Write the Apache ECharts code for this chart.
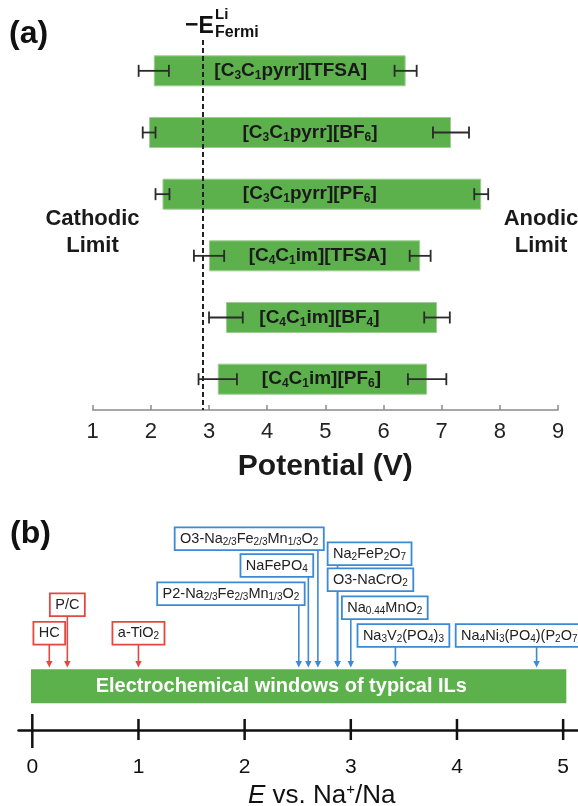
<!DOCTYPE html>
<html><head><meta charset="utf-8">
<script src="https://cdn.jsdelivr.net/npm/echarts@6/dist/echarts.min.js"></script>
<style>html,body{margin:0;padding:0;background:#fff}#c{width:578px;height:806px}</style>
</head><body><div id="c"></div>
<script>
// ---------- Panel (a) data ----------
const ilNames = [
  '[C{s|3}C{s|1}pyrr][TFSA]',
  '[C{s|3}C{s|1}pyrr][BF{s|6}]',
  '[C{s|3}C{s|1}pyrr][PF{s|6}]',
  '[C{s|4}C{s|1}im][TFSA]',
  '[C{s|4}C{s|1}im][BF{s|4}]',
  '[C{s|4}C{s|1}im][PF{s|6}]'
];
const cathodicLimit = [2.05, 1.97, 2.20, 3.00, 3.29, 3.15];
const anodicLimit   = [6.38, 7.16, 7.68, 6.63, 6.92, 6.75];
const cathodicErr   = [0.26, 0.11, 0.12, 0.26, 0.29, 0.33];
const anodicErr     = [0.19, 0.31, 0.12, 0.18, 0.22, 0.33];
const fermiLevel = 2.9;
const potentialMin = 1, potentialMax = 9;

// ---------- Panel (b) data ----------
const ilWindowNa = [0, 5.03];
const electrodeNames = [
  'HC', 'P/C', 'a-TiO{s|2}',
  'O3-Na{s|2/3}Fe{s|2/3}Mn{s|1/3}O{s|2}',
  'NaFePO{s|4}',
  'P2-Na{s|2/3}Fe{s|2/3}Mn{s|1/3}O{s|2}',
  'Na{s|2}FeP{s|2}O{s|7}',
  'O3-NaCrO{s|2}',
  'Na{s|0.44}MnO{s|2}',
  'Na{s|3}V{s|2}(PO{s|4}){s|3}',
  'Na{s|4}Ni{s|3}(PO{s|4})(P{s|2}O{s|7})'
];
const electrodePotential = [0.16, 0.33, 1.00, 2.69, 2.60, 2.51, 2.875, 2.875, 3.00, 3.42, 4.75];
const electrodeKind = ['anode','anode','anode','cathode','cathode','cathode','cathode','cathode','cathode','cathode','cathode'];
const naTicks = [0, 1, 2, 3, 4, 5];

// ---------- layout / style (not data) ----------
const FONT = '"Liberation Sans", Arial, Helvetica, sans-serif';
const GREEN = '#5cb14c';
const RED = '#e4473f', BLUE = '#3b8ad3';
const labelShiftA = [11, 10, -12, 3, -12, -1];
const boxTop    = [622.7, 594.3, 622.7, 528.3, 555, 583.3, 543.3, 569.3, 597.3, 625, 625];
const boxAnchor = ['c','c','c','r','r','r','l','l','l','l','l'];
const boxOff    = [0, 0, 0, 5, 4, 5, 9, 9, 8, 37, 80];

const chart = echarts.init(document.getElementById('c'), null, {renderer: 'canvas'});

const T = (text, x, y, font, extra) => ({type: 'text', style: Object.assign({
  text, x, y, fill: '#111', font: font + ' ' + FONT,
  align: 'left', verticalAlign: 'middle', textAlign: 'left', textVerticalAlign: 'middle'}, extra || {})});

const option = {
  animation: false,
  backgroundColor: '#fff',
  grid: [
    {left: 92.7, right: 20, top: 40, height: 370},
    {left: 18.5, right: 0, top: 500, height: 230}
  ],
  xAxis: [
    {
      gridIndex: 0, type: 'value', min: potentialMin, max: potentialMax, interval: 1,
      axisLine: {show: true, lineStyle: {color: '#8a8a8a', width: 1.5}},
      axisTick: {show: true, inside: true, length: 5, lineStyle: {color: '#8a8a8a', width: 1.5}},
      axisLabel: {fontSize: 22, color: '#222', margin: 11, fontFamily: FONT},
      splitLine: {show: false},
      name: 'Potential (V)', nameLocation: 'middle', nameGap: 42,
      nameTextStyle: {fontSize: 30, fontWeight: 'bold', color: '#1a1a1a', fontFamily: FONT}
    },
    {
      gridIndex: 1, type: 'value', min: -0.13, max: 5.14,
      axisLine: {show: true, lineStyle: {color: '#111', width: 2.5}},
      axisTick: {show: false},
      axisLabel: {customValues: naTicks, fontSize: 21, color: '#111', margin: 27, fontFamily: FONT},
      splitLine: {show: false}
    }
  ],
  yAxis: [
    {gridIndex: 0, type: 'category', data: ilNames.map((n, i) => i), inverse: true, show: false},
    {gridIndex: 1, type: 'value', min: 0, max: 1, show: false}
  ],
  graphic: [
    T('(a)', 9, 34, 'bold 32px'),
    T('(b)', 10, 534, 'bold 32px'),
    T('\u2212', 185, 26, 'bold 23px'),
    T('E', 198.5, 27, 'bold 23px'),
    T('Li', 215, 15, 'bold 15px'),
    T('Fermi', 215, 33, 'bold 16px'),
    T('Cathodic\nLimit', 92.5, 232.5, 'bold 22px', {fill: '#1a1a1a', lineHeight: 27.6, align: 'center', textAlign: 'center'}),
    T('Anodic\nLimit', 541, 232.5, 'bold 22px', {fill: '#1a1a1a', lineHeight: 27.6, align: 'center', textAlign: 'center'}),
    {type: 'text', style: {
      text: '{i|E} vs. Na{p|+}/Na', x: 321.7, y: 796, fill: '#111', fontSize: 26, fontFamily: FONT,
      align: 'center', verticalAlign: 'middle', textAlign: 'center', textVerticalAlign: 'middle',
      rich: {
        i: {fontStyle: 'italic', fontSize: 26, fontFamily: FONT, fill: '#111', lineHeight: 28},
        p: {fontSize: 15, fontFamily: FONT, fill: '#111', lineHeight: 15, padding: [0, 0, 13, 0]}
      }
    }}
  ],
  series: [
    {
      type: 'bar', xAxisIndex: 0, yAxisIndex: 0, stack: 'win', barWidth: 31,
      itemStyle: {color: 'rgba(0,0,0,0)'}, silent: true,
      data: cathodicLimit
    },
    {
      type: 'bar', xAxisIndex: 0, yAxisIndex: 0, stack: 'win', barWidth: 31,
      itemStyle: {color: GREEN, borderColor: '#9fcb93', borderWidth: 1},
      data: anodicLimit.map((v, i) => ({
        value: +(v - cathodicLimit[i]).toFixed(3),
        label: {offset: [labelShiftA[i], 0]}
      })),
      label: {
        show: true, position: 'inside',
        formatter: p => ilNames[p.dataIndex],
        fontSize: 19, fontWeight: 'bold', color: '#1a1a1a', fontFamily: FONT, lineHeight: 22,
        rich: {s: {fontSize: 12, fontWeight: 'bold', color: '#1a1a1a', fontFamily: FONT, lineHeight: 12, padding: [10, 0, 0, 0]}}
      },
      markLine: {
        silent: true, symbol: 'none', animation: false,
        label: {show: false},
        lineStyle: {type: [5, 3], color: '#222', width: 2},
        data: [{xAxis: fermiLevel}]
      }
    },
    {
      type: 'custom', xAxisIndex: 0, yAxisIndex: 0, silent: true, z: 5,
      data: ilNames.map((n, i) => [cathodicLimit[i], anodicLimit[i], cathodicErr[i], anodicErr[i], i]),
      encode: {x: [0, 1], y: 4},
      renderItem: (params, api) => {
        const idx = api.value(4);
        const children = [];
        const mk = (c, e) => {
          const a = api.coord([c - e, idx]);
          const b = api.coord([c + e, idx]);
          const y = a[1];
          const st = {stroke: '#2b2b2b', lineWidth: 1.8};
          children.push({type: 'line', shape: {x1: a[0], y1: y, x2: b[0], y2: y}, style: st});
          children.push({type: 'line', shape: {x1: a[0], y1: y - 6, x2: a[0], y2: y + 6}, style: st});
          children.push({type: 'line', shape: {x1: b[0], y1: y - 6, x2: b[0], y2: y + 6}, style: st});
        };
        mk(api.value(0), api.value(2));
        mk(api.value(1), api.value(3));
        return {type: 'group', children};
      }
    },
    // Panel (b): IL window bar
    {
      type: 'custom', xAxisIndex: 1, yAxisIndex: 1, silent: true, clip: false,
      data: [[ilWindowNa[0], ilWindowNa[1]]],
      encode: {x: [0, 1]},
      renderItem: (params, api) => {
        const a = api.coord([api.value(0), 0]);
        const b = api.coord([api.value(1), 0]);
        const base = a[1];
        return {type: 'group', children: [
          {type: 'rect', shape: {x: a[0] - 1.3, y: base - 60.7, width: b[0] - a[0] + 1.3, height: 34}, style: {fill: GREEN}},
          {type: 'text', style: {text: 'Electrochemical windows of typical ILs', x: (a[0] + b[0]) / 2 - 18, y: base - 43.7,
            fill: '#fff', font: 'bold 20px ' + FONT, align: 'center', verticalAlign: 'middle', textAlign: 'center', textVerticalAlign: 'middle'}}
        ]};
      }
    },
    // Panel (b): axis ticks crossing the axis
    {
      type: 'custom', xAxisIndex: 1, yAxisIndex: 1, silent: true, clip: false, z: 3,
      data: naTicks.map(v => [v]),
      encode: {x: 0},
      renderItem: (params, api) => {
        const p = api.coord([api.value(0), 0]);
        const first = params.dataIndex === 0;
        return {type: 'line', shape: {x1: p[0], y1: p[1] - (first ? 16 : 11), x2: p[0], y2: p[1] + (first ? 18 : 10)},
          style: {stroke: '#111', lineWidth: 2.5}};
      }
    },
    // Panel (b): arrows
    {
      type: 'custom', xAxisIndex: 1, yAxisIndex: 1, silent: true, clip: false, z: 3,
      data: electrodePotential.map(v => [v]),
      encode: {x: 0},
      renderItem: (params, api) => {
        const i = params.dataIndex;
        const p = api.coord([api.value(0), 0]);
        const x = p[0];
        const tip = p[1] - 62.5;
        const col = electrodeKind[i] === 'anode' ? RED : BLUE;
        return {type: 'group', children: [
          {type: 'line', shape: {x1: x, y1: boxTop[i] + 20, x2: x, y2: tip - 5}, style: {stroke: col, lineWidth: 1.6}},
          {type: 'polygon', shape: {points: [[x - 3.2, tip - 6.5], [x + 3.2, tip - 6.5], [x, tip]]}, style: {fill: col}}
        ]};
      }
    },
    // Panel (b): label boxes
    {
      type: 'custom', xAxisIndex: 1, yAxisIndex: 1, silent: true, clip: false, z: 4,
      data: electrodePotential.map(v => [v]),
      encode: {x: 0},
      renderItem: (params, api) => {
        const i = params.dataIndex;
        const p = api.coord([api.value(0), 0]);
        const col = electrodeKind[i] === 'anode' ? RED : BLUE;
        let x = p[0], al = 'center';
        if (boxAnchor[i] === 'r') { x = p[0] + boxOff[i]; al = 'right'; }
        else if (boxAnchor[i] === 'l') { x = p[0] - boxOff[i]; al = 'left'; }
        return {type: 'text', style: {
          text: electrodeNames[i], x: x, y: boxTop[i],
          fill: '#222', fontSize: 14.5, fontFamily: FONT, lineHeight: 17,
          align: al, verticalAlign: 'top', textAlign: al, textVerticalAlign: 'top',
          backgroundColor: '#fff', borderColor: col, borderWidth: 1.8, padding: [2, 4.5, 2, 4.5],
          rich: {s: {fontSize: 10, fontFamily: FONT, fill: '#222', lineHeight: 10, padding: [7, 0, 0, 0]}}
        }};
      }
    }
  ]
};
chart.setOption(option);
</script>
</body></html>
